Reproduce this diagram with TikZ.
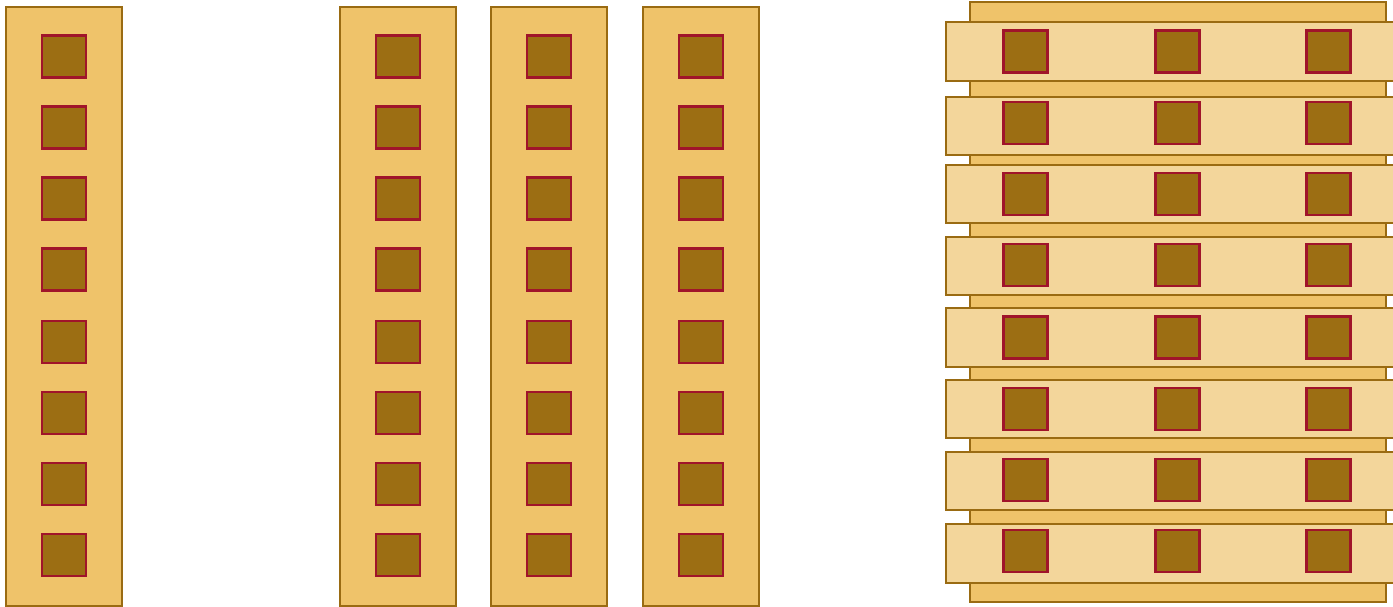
\documentclass[tikz,border=0pt]{standalone}
\definecolor{edge}{HTML}{9A6B12}
\definecolor{colfill}{HTML}{EFC36A}
\definecolor{barfill}{HTML}{F3D69B}
\definecolor{sqfill}{HTML}{9C6E13}
\definecolor{sqedge}{HTML}{A0142A}
\begin{document}
\begin{tikzpicture}[x=1pt,y=-1pt,
  column/.style={draw=edge,fill=colfill,line width=2.6pt},
  bar/.style={draw=edge,fill=barfill,line width=2.6pt},
  sq/.style={draw=sqedge,fill=sqfill,line width=2.5pt,minimum width=44pt,minimum height=42pt,inner sep=0pt,outer sep=0pt}]
\clip (0,0) rectangle (1393,607);
\fill[white] (0,0) rectangle (1393,607);
% left column
\draw[column] (6,7) rectangle (122,606);
\foreach \y [count=\i] in {56.5,127.5,198.5,269.5,342,413,484,555}
  \node[sq] (a\i) at (64,\y) {};
% middle columns
\foreach \x [count=\j] in {340,491,643} {
  \draw[column] (\x,7) rectangle (\x+116,606);
  \foreach \y [count=\i] in {56.5,127.5,198.5,269.5,342,413,484,555}
    \node[sq] (m\j-\i) at (\x+58,\y) {};
}
% right structure
\draw[column] (970,2) rectangle (1386,602);
\foreach \yt/\yb/\yc [count=\i] in {22/81/51.5, 97/155/123, 165/223/194, 237/295/265, 308/367/337.5, 380/438/409, 452/510/480, 524/583/551} {
  \draw[bar] (946,\yt) rectangle (1400,\yb);
  \foreach \x [count=\j] in {1025.5,1177.5,1328.5}
    \node[sq] (r\i-\j) at (\x,\yc) {};
}
\end{tikzpicture}
\end{document}
